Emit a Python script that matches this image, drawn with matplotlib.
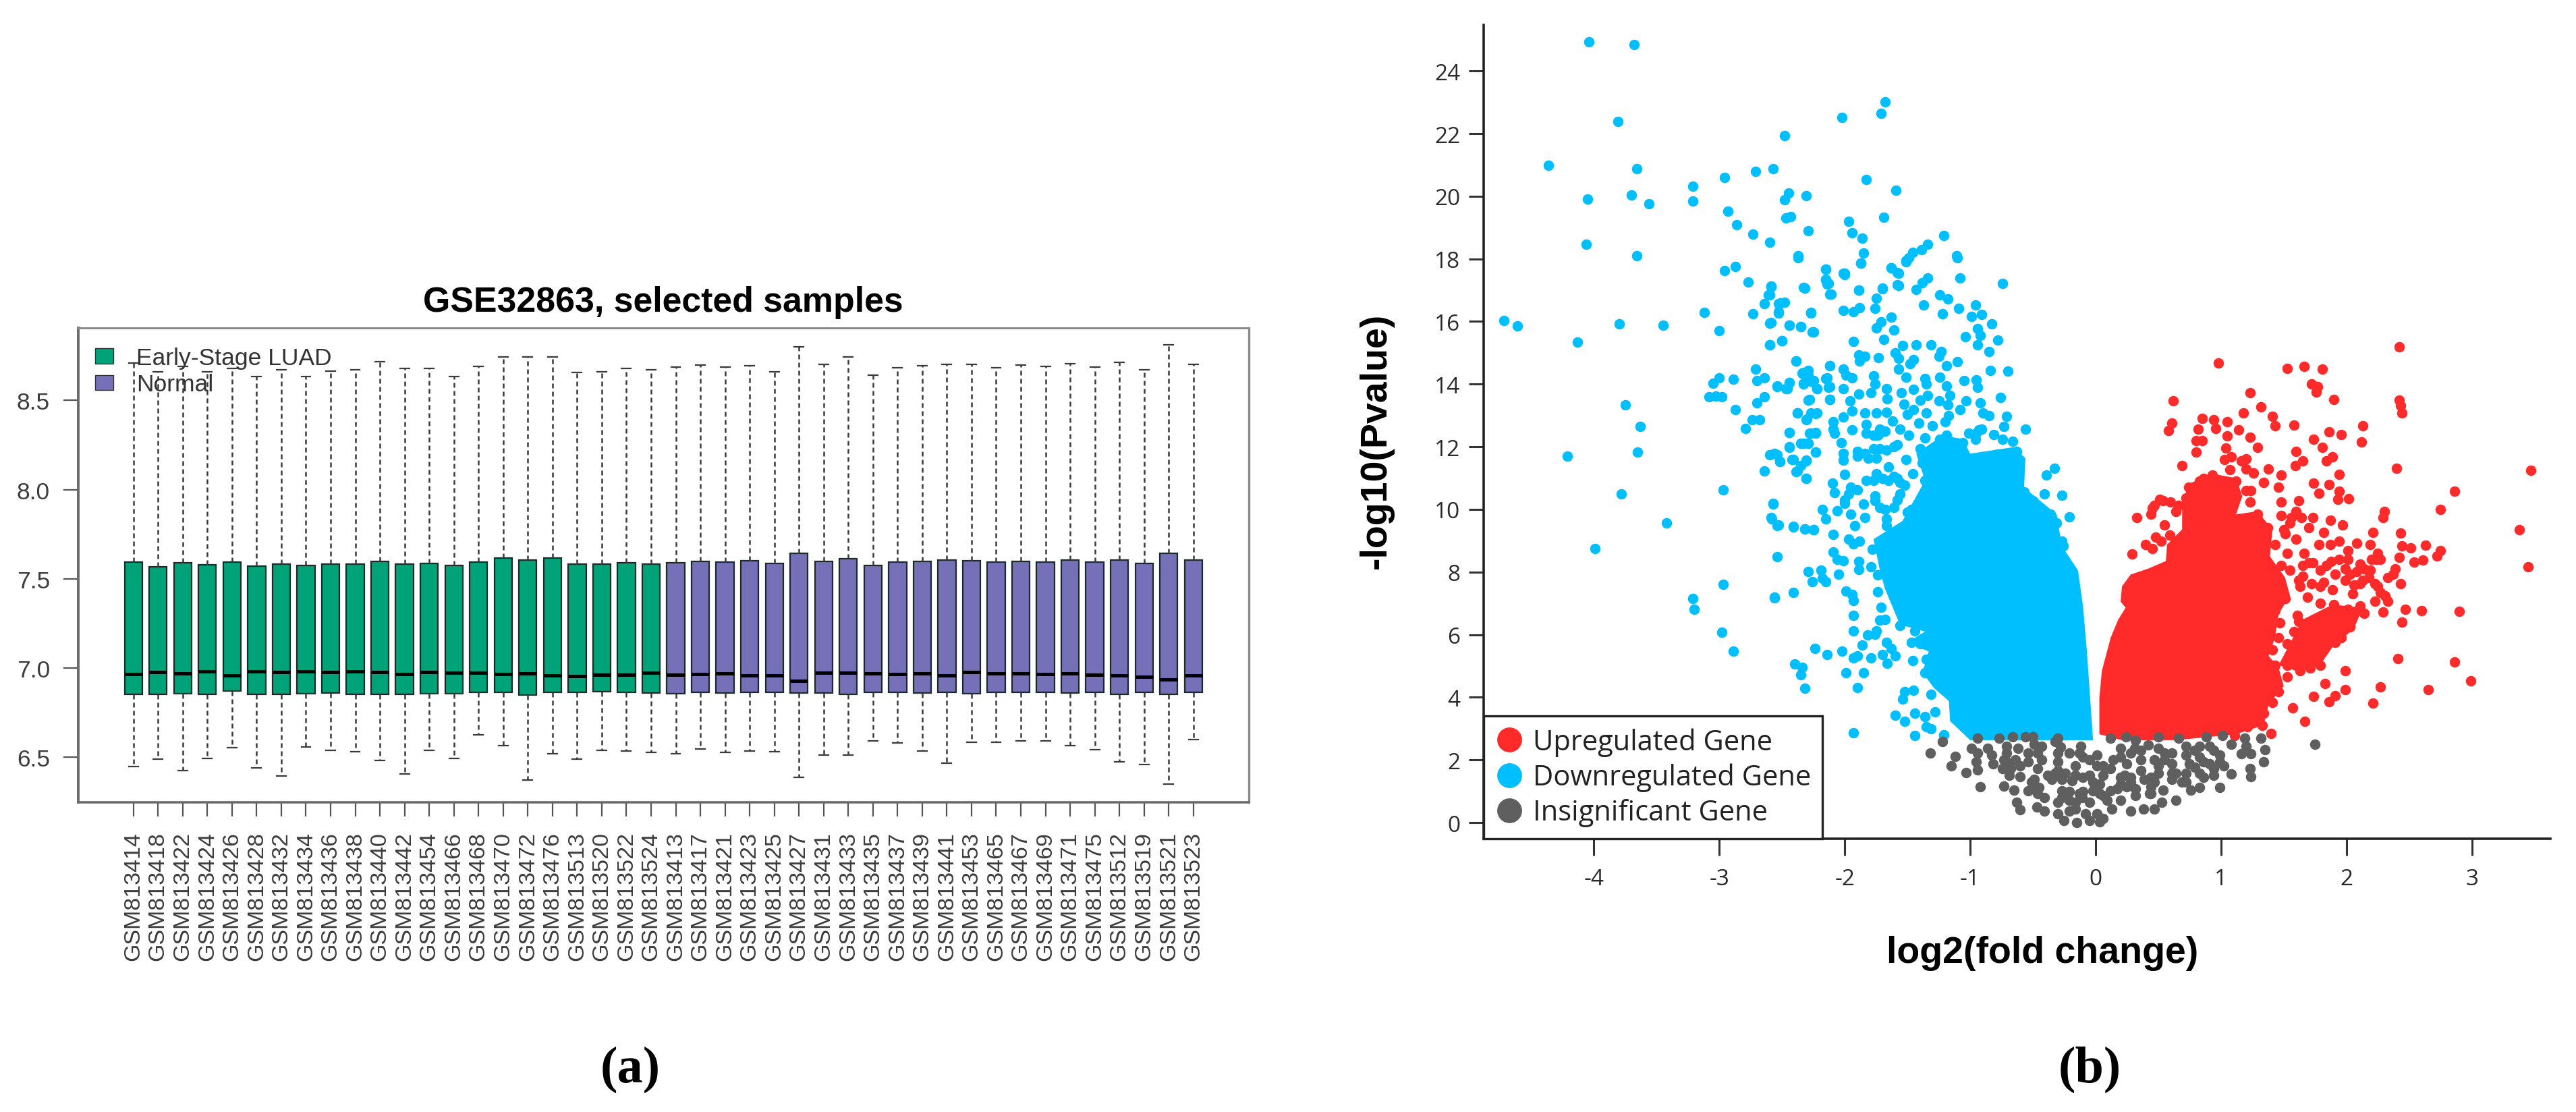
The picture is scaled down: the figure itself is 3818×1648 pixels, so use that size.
import matplotlib
matplotlib.use("Agg")
import matplotlib.pyplot as plt
from matplotlib.lines import Line2D
from matplotlib.patches import Patch

W, H = 3818, 1649
DPI = 100

# ---------- panel (a) data ----------
early_samples = ["GSM813414","GSM813418","GSM813422","GSM813424","GSM813426","GSM813428","GSM813432","GSM813434",
                 "GSM813436","GSM813438","GSM813440","GSM813442","GSM813454","GSM813466","GSM813468","GSM813470",
                 "GSM813472","GSM813476","GSM813513","GSM813520","GSM813522","GSM813524"]
normal_samples = ["GSM813413","GSM813417","GSM813421","GSM813423","GSM813425","GSM813427","GSM813431","GSM813433",
                  "GSM813435","GSM813437","GSM813439","GSM813441","GSM813453","GSM813465","GSM813467","GSM813469",
                  "GSM813471","GSM813475","GSM813512","GSM813519","GSM813521","GSM813523"]
early_q3 = [7.595,7.566,7.589,7.579,7.595,7.569,7.583,7.573,7.583,7.583,7.598,7.583,7.585,7.573,7.595,7.616,7.604,7.616,7.583,7.583,7.589,7.583]
early_q1 = [6.851,6.851,6.855,6.851,6.871,6.853,6.851,6.857,6.859,6.853,6.851,6.851,6.857,6.857,6.865,6.865,6.849,6.865,6.865,6.867,6.865,6.859]
early_med = [6.967,6.977,6.971,6.981,6.958,6.979,6.977,6.981,6.977,6.981,6.977,6.965,6.977,6.975,6.973,6.965,6.969,6.959,6.956,6.961,6.961,6.973]
early_hi = [8.71,8.66,8.69,8.66,8.68,8.635,8.67,8.635,8.664,8.67,8.716,8.68,8.68,8.635,8.69,8.743,8.743,8.743,8.658,8.662,8.68,8.67]
early_lo = [6.448,6.49,6.425,6.492,6.554,6.44,6.396,6.556,6.54,6.531,6.483,6.405,6.537,6.492,6.625,6.564,6.371,6.519,6.488,6.54,6.535,6.527]
normal_q3 = [7.589,7.597,7.594,7.6,7.586,7.641,7.597,7.612,7.574,7.592,7.597,7.603,7.6,7.592,7.597,7.594,7.603,7.594,7.606,7.586,7.641,7.606]
normal_q1 = [6.857,6.863,6.86,6.863,6.865,6.86,6.86,6.854,6.863,6.865,6.86,6.865,6.857,6.863,6.863,6.865,6.86,6.863,6.854,6.863,6.854,6.865]
normal_med = [6.961,6.967,6.97,6.958,6.958,6.929,6.975,6.972,6.97,6.964,6.97,6.958,6.978,6.97,6.97,6.964,6.97,6.961,6.958,6.952,6.935,6.958]
normal_hi = [8.686,8.697,8.686,8.694,8.662,8.801,8.7,8.743,8.642,8.683,8.694,8.703,8.703,8.683,8.697,8.691,8.706,8.686,8.714,8.671,8.813,8.703]
normal_lo = [6.521,6.544,6.527,6.533,6.53,6.388,6.512,6.512,6.591,6.579,6.536,6.466,6.585,6.585,6.591,6.593,6.564,6.541,6.475,6.458,6.348,6.6]

# ---------- panel (b) data : isolated points ----------
down_x = [-4.04,-3.68,-3.81,-4.36,-3.66,-4.05,-3.70,-3.56,-3.21,-3.21,-2.96,-2.71,-2.57,-2.48,-2.02,-1.71,-1.68,-1.83,-1.59,-2.45,-2.48,-2.31,
 -4.06,-3.66,-2.93,-2.86,-2.73,-2.60,-2.47,-2.43,-2.29,-1.97,-1.94,-1.86,-1.69,-1.85,-1.87,-2.37,-2.96,-2.87,-2.77,-2.59,-2.61,-2.64,-2.73,
 -2.53,-2.48,-2.53,-2.60,-2.44,-2.35,-2.25,-2.27,-2.32,-2.15,-2.15,-2.13,-2.12,-2.01,-2.00,-1.89,-1.70,-1.63,-1.57,-1.57,-1.51,-1.49,-1.46,-1.39,-1.34,-1.21,-1.11,
 -4.72,-4.61,-3.80,-3.45,-3.12,-3.00,-4.13,-2.50,-2.60,-2.39,-2.12,-2.71,-2.70,-2.64,-3.00,-3.05,-2.89,-3.08,-3.03,-2.98,-2.54,-2.47,-2.44,-2.64,-2.70,-3.75,-2.87,-2.74,-2.68,-3.63,-2.79,-3.65,-4.21,-2.60,-2.54,-2.52,-2.64,-3.78,-2.97,-3.42,-2.57,-2.58,-2.54,
 -2.41,-2.32,-2.25,-2.44,-2.44,-2.33,-2.29,-2.23,-2.41,-2.31,-2.38,-2.31,-2.38,-2.29,-2.23,-2.31,-2.27,-2.23,-2.34,-2.31,-2.33,-2.22,-2.26,-2.14,-2.12,-2.12,
 -2.37,-1.87,-2.15,-2.00,-2.15,-2.14,-2.33,-2.11,-1.89,-2.59,-2.60,-1.70,-1.58,-1.63,-1.58,-1.51,-1.43,-1.38,-1.34,-1.08,-0.74,-1.10,-1.24,-1.18,-1.37,-1.22,-1.09,-0.96,-0.91,-0.99,-1.75,-1.76,-2.01,-1.93,-1.88,
 -2.51,-2.53,-2.27,-2.59,-2.44,-2.35,-2.26,-1.63,-1.71,-1.75,-1.61,-0.83,-0.94,-0.92,-1.04,-0.78,-0.94,-0.85,-2.50,-2.60,-1.93,-1.69,-1.54,-1.43,-1.31,-1.23,-1.25,-1.10,-1.19,-0.84,-0.70,
 -2.39,-2.12,-1.89,-1.84,-1.88,-1.73,-1.60,-1.57,-1.45,-1.48,-1.57,-1.51,-1.36,-1.24,-1.19,-1.16,-1.05,-0.95,-0.94,-0.76,-2.01,-1.99,-1.94,-2.33,-2.29,-2.33,-2.25,-2.22,-2.15,-2.13,-2.54,-2.46,-2.44,-2.01,
 -1.77,-1.76,-1.79,-1.89,-1.67,-1.66,-1.55,-1.45,-1.35,-1.34,-1.40,-1.53,-2.28,-2.12,-1.96,-1.94,-2.01,-1.84,-1.75,-1.67,-1.62,-1.45,-1.50,-1.35,-1.25,-1.18,-1.08,-1.03,-0.92,-0.90,-0.85,-0.71,-0.73,-0.56,
 -2.38,-2.30,-2.27,-2.22,-2.09,-2.09,-2.08,-1.94,-2.44,-2.28,-2.23,-1.83,-1.83,-1.72,-1.41,-1.30,-1.20,-1.17,-1.56,-1.49,-1.36,-1.24,-1.19,-0.93,-0.96,-0.81,-0.74,-0.66,
 -2.35,-2.29,-2.44,-2.23,-2.03,-2.01,-2.01,-1.90,-1.77,-1.67,-1.58,-2.56,-2.52,-2.42,-2.31,-2.35,-2.39,-2.31,-2.00,-1.51,-1.40,-1.38,-1.26,-1.20,-1.06,-0.63,-0.61,-0.90,-0.87,-0.78,-0.73,-0.33,-0.39,-1.46,-1.65,-1.75,-2.10,-0.41,-0.27,-0.21,
 -2.57,-2.59,-2.53,-2.41,-2.32,-2.25,-2.09,-2.18,-2.15,-2.06,-1.95,-1.84,-1.92,-1.97,-1.93,-1.88,-2.09,-2.06,-2.01,-2.54,-1.78,-1.89,-1.89,-2.29,-2.19,-2.18,-2.26,-2.15,-2.05,-1.79,-1.99,-2.41,-1.74,
 -1.85,-2.08,-2.00,-1.95,-1.83,-1.70,-1.76,-1.58,-1.68,-1.50,-1.45,-1.67,-1.49,-1.52,-1.58,-1.36,-1.36,-1.31,-0.57,-0.50,-0.36,-0.31,-0.26,-0.27,
 -1.74,-1.94,-1.93,-2.56,-1.71,-1.93,-1.72,-1.68,-1.93,-1.82,-1.76,-1.75,-1.56,-1.44,-1.47,-1.40,-1.67,-1.63,-1.60,-1.70,-1.66,-1.86,-1.79,-1.93,-1.90,-2.02,-2.14,-2.24,-2.89,-2.40,-2.34,-2.35,-1.99,-1.85,-2.32,-1.90,-1.46,-1.35,-1.36,-1.52,-1.54,-1.45,-1.31,-1.60,-1.52,-1.44,-1.36,-1.28,-1.35,-1.31,-1.44,-1.93,-1.21,
 -3.21,-3.20,-2.97,-2.98,-3.99,-2.56,
 -2.29,-1.72,-1.74,-1.68,-1.77,-0.95,-0.91,-1.01,-1.84,-1.81,-1.72,-1.75,-1.61,-1.90,-1.65,-1.61,-1.56,-1.77,-1.90,-1.97,-2.00,-1.76,-1.72,-1.61,-1.56,-1.47,-1.67]
down_y = [24.93,24.85,22.38,20.98,20.89,19.92,20.03,19.75,20.32,19.85,20.59,20.79,20.89,21.94,22.52,22.65,23.02,20.53,20.19,20.11,19.88,20.01,
 18.46,18.09,19.52,19.10,18.79,18.53,19.30,19.34,18.89,19.20,18.83,18.67,19.32,18.19,17.87,18.09,17.62,17.75,17.25,17.12,16.86,16.57,16.24,
 16.58,16.61,16.27,15.95,15.89,15.83,15.67,16.27,17.07,17.66,17.33,17.22,16.88,17.55,17.49,17.00,17.04,17.71,17.55,17.16,17.91,18.04,18.21,18.29,18.46,18.75,18.09,
 16.03,15.85,15.92,15.89,16.30,15.71,15.35,15.38,15.26,14.73,14.58,14.47,14.11,14.19,14.19,14.03,14.16,13.59,13.61,13.59,13.93,13.86,14.06,13.59,13.40,13.34,13.19,12.87,12.87,12.65,12.58,11.84,11.70,11.75,11.75,11.53,11.23,10.49,10.63,9.56,10.17,9.69,9.49,
 9.43,9.38,9.36,12.46,12.00,12.10,12.10,11.83,11.59,11.56,11.23,11.00,13.09,13.50,13.06,12.87,12.43,12.46,14.36,14.19,14.03,13.86,14.08,14.19,13.92,13.51,
 18.04,17.87,17.67,17.53,17.35,17.20,17.09,16.88,17.01,17.13,16.84,17.06,17.17,17.71,17.56,17.96,17.02,17.24,17.40,17.40,17.22,18.04,16.86,16.72,16.52,16.25,16.41,16.53,16.23,16.16,16.74,16.43,16.36,16.31,16.45,
 16.59,16.31,16.29,15.96,15.89,15.83,15.67,16.15,15.98,15.79,15.72,15.93,15.77,15.55,15.52,15.41,15.26,15.03,15.39,15.26,15.37,15.43,15.23,15.26,15.25,15.05,14.88,14.71,14.58,14.43,14.42,
 14.74,14.58,14.94,14.90,14.73,14.84,14.99,14.83,14.78,14.65,14.47,14.22,14.17,14.22,13.94,13.65,14.12,14.14,13.90,13.58,14.47,14.29,14.21,14.37,14.29,14.01,14.12,13.86,14.17,13.90,13.95,13.86,14.06,13.86,
 14.26,14.01,13.72,13.68,13.86,13.54,13.72,13.83,14.01,13.65,13.50,13.36,13.52,13.52,13.47,13.15,12.94,13.07,13.07,13.11,12.82,13.18,13.04,13.07,13.47,13.33,13.18,13.47,13.40,13.07,12.99,12.97,12.64,12.57,
 13.07,12.89,13.07,13.07,12.79,12.57,12.43,12.54,12.45,12.44,12.44,12.72,12.43,12.43,12.75,12.66,12.79,13.00,12.57,12.36,12.28,12.25,12.36,12.54,12.25,12.39,12.25,12.18,
 12.10,12.10,11.98,11.83,12.14,11.78,11.57,11.85,11.93,11.89,12.07,11.78,11.53,11.60,11.57,11.39,11.21,10.99,11.12,11.60,11.93,11.49,11.57,11.98,12.14,11.85,11.42,11.67,11.46,11.77,11.28,11.31,11.09,11.14,11.35,11.14,10.83,10.49,10.45,9.77,
 10.19,9.74,9.50,9.45,9.38,9.36,9.21,10.00,9.70,9.95,9.84,9.74,9.48,9.05,8.91,8.98,8.64,8.41,8.37,8.49,8.73,8.34,8.08,8.01,8.05,7.80,7.69,7.69,7.93,8.16,7.40,7.34,7.37,
 10.17,10.53,10.31,10.70,10.92,10.99,10.42,10.31,9.99,9.91,9.77,9.70,9.48,10.78,10.99,10.92,10.42,10.06,10.56,10.27,9.84,9.56,8.84,8.98,
 7.90,7.29,7.08,7.19,6.88,6.61,6.47,6.49,6.11,6.00,6.02,6.11,6.29,6.11,5.75,5.71,5.75,5.57,5.32,5.37,5.09,5.66,5.25,5.25,5.32,5.48,5.37,5.57,5.48,5.07,4.96,4.71,4.78,4.78,4.29,4.30,5.18,5.21,4.78,4.17,3.95,4.22,4.10,3.43,3.24,3.49,3.38,3.54,3.06,2.99,2.79,2.86,2.81,
 7.15,6.81,7.60,6.07,8.75,7.18,
 14.44,12.57,12.36,12.50,12.36,12.43,12.57,12.43,11.78,11.64,11.93,11.64,12.00,11.71,10.92,11.06,10.85,10.92,10.63,10.49,10.20,10.27,10.06,10.06,10.49,9.99,9.48]
up_x = [2.42,0.98,1.53,1.66,1.81,1.72,1.77,1.76,1.23,0.62,1.90,2.42,2.43,2.44,1.32,1.18,1.41,1.43,1.58,2.13,2.12,0.85,0.94,0.96,1.05,0.61,0.58,0.82,0.80,0.85,
 1.05,1.14,1.23,1.29,1.86,1.96,1.74,1.81,0.80,1.04,1.60,1.89,1.84,1.65,1.59,1.03,1.08,1.16,1.20,0.69,1.07,1.20,1.26,1.38,1.48,2.40,3.47,1.94,0.93,0.86,
 1.74,1.86,1.78,1.94,1.93,2.02,2.86,2.75,3.38,3.45,2.30,2.29,1.34,1.46,1.48,1.62,1.60,1.56,1.64,1.48,1.23,1.73,1.70,1.87,1.97,1.82,0.33,0.44,0.29,0.55,0.48,0.40,0.45,
 0.54,0.60,0.47,0.66,0.74,0.72,0.83,1.00,1.12,1.20,1.51,1.60,1.43,1.53,1.55,1.48,1.37,1.29,1.22,
 1.78,1.87,1.94,2.01,2.08,2.19,2.21,2.43,2.44,2.51,2.63,2.75,2.72,2.42,2.54,2.61,2.24,2.19,2.11,2.39,2.33,2.43,2.01,1.99,1.88,1.66,1.73,1.79,1.65,1.72,1.82,1.99,1.89,
 1.63,1.69,2.11,2.23,2.27,2.33,2.23,2.05,2.47,2.60,2.90,2.44,2.29,2.14,2.11,2.01,1.90,1.79,1.96,2.03,1.96,1.91,1.84,1.75,1.61,1.62,1.58,1.70,1.82,1.65,1.82,1.53,1.79,1.71,1.63,1.53,1.43,1.41,
 2.41,2.86,2.99,1.99,1.83,1.99,1.91,1.86,1.74,2.27,2.21,2.65,1.57,1.67,1.40,1.11,
 1.47,1.43,1.51,1.48,1.41,1.46,1.41,1.31,1.27,1.34,1.46,1.41,1.34,1.33,1.21,1.24,1.31,1.37,1.41,1.53,
 0.45,0.51,0.64,0.52,0.59,0.47,0.33,1.94,2.03,2.08,2.14,2.25,2.20,2.27,2.18,2.13,2.06,2.25,2.31,2.37,1.91,1.84,1.70,1.65,1.79,1.62,1.55,1.50,1.24]
up_y = [15.20,14.67,14.51,14.56,14.49,14.00,13.93,13.74,13.72,13.47,13.52,13.50,13.31,13.09,13.28,13.07,12.97,12.68,12.70,12.68,12.15,12.90,12.87,12.59,12.81,12.76,12.51,12.56,12.20,12.20,
 12.34,12.54,12.30,11.99,12.47,12.39,12.25,11.99,11.82,11.96,11.86,11.67,11.56,11.56,11.40,11.60,11.67,11.56,11.62,11.40,11.27,11.29,11.17,11.29,11.10,11.32,11.24,11.12,11.10,11.00,
 10.83,10.79,10.52,10.57,10.33,10.35,10.57,9.99,9.36,8.16,9.94,9.75,10.85,10.71,10.23,10.28,9.94,9.75,9.75,9.80,10.23,9.75,9.41,9.65,9.51,9.27,9.75,9.84,8.57,9.51,9.12,8.88,8.74,
 10.28,10.23,10.13,10.13,10.71,10.37,10.90,10.90,10.90,10.61,9.22,9.05,8.88,8.59,8.06,8.21,9.41,9.84,9.65,
 8.88,8.88,8.98,8.69,8.93,8.88,9.27,9.25,8.83,8.77,8.85,8.69,8.52,8.47,8.32,8.38,8.40,8.06,8.26,8.11,7.82,7.63,8.40,8.11,8.35,8.59,8.30,8.06,7.87,7.63,7.68,7.73,7.44,
 7.54,7.20,7.63,7.63,7.34,7.07,7.07,7.30,6.81,6.77,6.74,6.40,6.72,6.67,6.91,6.81,6.96,7.01,6.57,6.24,5.90,5.76,6.43,6.48,6.62,6.43,6.09,6.09,6.00,5.61,5.52,5.71,5.03,4.94,4.84,5.03,5.03,4.84,
 5.23,5.13,4.52,4.84,4.43,4.25,4.05,3.85,4.04,4.34,3.81,4.25,3.67,3.24,2.84,2.77,
 6.38,6.77,7.15,7.54,7.15,5.90,5.52,5.32,4.74,4.46,4.17,3.83,3.49,3.11,3.06,3.98,5.90,6.28,5.03,4.65,
 10.04,10.33,9.94,8.98,9.17,8.02,7.82,8.40,7.92,8.02,8.11,8.59,8.40,8.40,7.82,7.73,7.58,7.54,7.25,7.92,7.92,8.21,8.30,8.21,7.54,7.73,9.56,9.36,10.61]
insig_x = [-1.22,-1.32,-1.12,-1.15,-1.03,-0.92,-0.99,-0.94,-0.95,-0.94,-0.82,-0.86,-0.77,-0.66,-0.56,-0.50,-0.30,-0.28,-0.12,-0.71,-0.64,-0.54,-0.43,-0.43,-0.46,-0.74,-0.69,-0.60,-0.73,-0.65,-0.49,-0.54,-0.45,-0.41,-0.63,-0.60,-0.47,-0.41,
 -0.32,-0.30,-0.21,-0.10,-0.16,-0.24,-0.19,-0.05,0.01,0.06,0.14,0.06,0.12,0.24,0.32,0.20,0.28,0.42,0.50,0.61,0.66,0.36,0.47,0.36,0.23,0.20,0.28,0.39,0.50,0.44,0.43,0.54,0.64,0.53,0.32,0.47,0.38,0.28,0.13,0.20,0.12,0.03,0.06,-0.02,-0.13,-0.27,-0.30,-0.30,-0.25,-0.15,-0.16,-0.05,0.01,-0.05,0.03,0.06,-0.21,
 0.72,0.79,0.88,1.01,0.94,1.08,1.19,1.32,1.20,1.16,1.24,1.35,1.34,1.23,1.24,1.08,0.99,1.02,0.94,0.94,0.86,0.75,0.61,0.64,0.61,0.72,0.76,0.83,0.99,1.75,0.83,0.72,0.50,
 -0.71,-0.62,-0.49,-0.60,-0.54,-0.68,-0.35,-0.27,-0.10,-0.02,-0.49,-0.46,-0.51,-0.21,-0.27,-0.21,-0.08,-0.10,0.03,0.09,-0.11,-0.16,
 0.12,0.20,0.25,0.31,0.36,0.55,0.55,0.50,0.61,0.44,0.28,0.20,0.44,0.47,0.32,0.25,0.17,0.69,0.83,0.91,0.99,0.91,0.83,0.86,0.79,0.72,
 -0.94,-0.83,-0.73,-0.71,-0.30,-0.46,-0.32,-0.13,-0.05,0.01,-0.16,-0.30,-0.38]
insig_y = [2.59,2.21,2.12,1.80,1.60,1.14,2.37,2.69,1.94,1.69,1.87,2.37,2.69,2.73,2.73,2.73,2.69,2.41,2.44,2.23,2.01,2.23,2.44,2.01,1.72,1.72,1.51,1.47,1.17,1.04,1.37,1.01,1.11,0.79,0.65,0.40,0.50,0.36,
 1.58,1.94,2.23,2.08,1.80,1.58,1.33,1.51,2.16,1.80,2.01,1.51,2.69,2.73,2.62,2.37,2.23,2.48,2.37,2.23,2.69,2.01,2.01,1.65,1.51,1.22,1.29,1.37,1.58,1.15,0.93,1.04,0.72,0.65,0.86,0.43,0.43,0.36,0.43,0.72,1.01,1.22,0.86,1.01,0.93,1.01,0.65,0.29,0.07,0.00,0.43,0.65,0.29,0.07,0.03,0.14,0.72,
 2.44,2.30,2.73,2.77,2.30,2.51,2.69,2.69,2.44,2.19,2.19,2.33,1.94,1.72,1.47,1.55,1.94,1.80,1.72,1.51,1.44,1.87,1.87,1.58,1.37,1.29,1.04,1.11,1.11,2.50,2.08,2.16,2.73,
 1.94,2.37,2.51,1.80,1.94,1.72,1.37,1.37,1.44,1.29,1.15,0.93,1.29,1.00,0.79,0.36,0.29,1.00,0.93,0.72,0.79,0.65,
 1.72,2.08,1.87,2.37,2.30,2.01,2.23,1.80,1.58,1.44,1.44,1.44,0.93,1.29,1.08,1.15,1.08,1.29,1.58,1.87,2.16,2.44,2.44,1.94,1.76,1.58,
 2.23,2.16,2.01,2.44,2.23,2.23,2.59,2.23,2.01,1.80,1.51,1.65,1.51]

# outlines of the areas where the points merge into solid colour
down_core_x = [-1.00,-0.02,-0.07,-0.10,-0.14,-0.27,-0.31,-0.57,-0.56,-0.65,-1.00,-1.06,-1.22,-1.43,-1.36,-1.54,-1.77,-1.72,-1.68,-1.56,-1.36,-1.50,-1.33,-1.38,-1.29,-1.17,-1.16]
down_core_y = [2.63,2.63,5.50,6.90,8.05,8.84,9.84,10.70,11.64,11.99,11.78,12.25,12.36,11.78,10.92,9.63,9.05,8.05,7.47,6.32,6.10,5.75,5.46,4.80,4.30,3.88,3.24]
up_core_x = [0.21,0.64,1.12,1.34,1.38,1.50,1.46,1.38,1.43,1.46,1.55,1.51,1.39,1.41,1.29,1.12,1.17,1.12,0.93,0.74,0.69,0.69,0.57,0.56,0.42,0.28,0.21,0.20,0.24,0.18,0.12,0.05,0.03,0.03]
up_core_y = [2.63,2.63,2.82,3.11,3.78,4.36,4.94,5.32,5.90,6.67,7.25,7.83,8.50,9.36,9.94,9.84,10.42,11.00,11.14,10.81,10.13,9.36,8.88,8.35,8.11,7.92,7.54,7.05,6.86,6.48,5.90,4.84,3.98,2.82]
up_arm_x = [1.46,1.65,1.89,2.13,2.06,1.89,1.79,1.60]
up_arm_y = [5.03,6.48,6.96,6.86,6.19,5.61,5.03,4.84]

y_ticks_a = [6.5, 7.0, 7.5, 8.0, 8.5]
x_ticks_b = [-4, -3, -2, -1, 0, 1, 2, 3]
y_ticks_b = [0, 2, 4, 6, 8, 10, 12, 14, 16, 18, 20, 22, 24]
legend_a = ["Early-Stage LUAD", "Normal"]
legend_b = ["Upregulated Gene", "Downregulated Gene", "Insignificant Gene"]

GREEN, PURPLE = "#00A378", "#7570B8"
RED, BLUE, GREY = "#FF2B2B", "#00BFFF", "#5F5F5F"

plt.rcParams["font.family"] = ["Liberation Sans", "DejaVu Sans"]
plt.rcParams["axes.unicode_minus"] = False
fig = plt.figure(figsize=(W / DPI, H / DPI), dpi=DPI, facecolor="white")

def axes_px(l, t, r, b):
    return fig.add_axes([l / W, 1 - b / H, (r - l) / W, (b - t) / H])

# ---------- panel (a) ----------
ax = axes_px(115.6, 487, 1851, 1190)
samples = early_samples + normal_samples
stats = []
for lab, hi, q3, med, q1, lo in zip(samples, early_hi + normal_hi, early_q3 + normal_q3,
                                    early_med + normal_med, early_q1 + normal_q1, early_lo + normal_lo):
    stats.append(dict(label=lab, whishi=hi, q3=q3, med=med, q1=q1, whislo=lo, fliers=[]))
positions = list(range(1, len(samples) + 1))
art = ax.bxp(stats, positions=positions, widths=0.72, capwidths=0.38, patch_artist=True, showfliers=False,
             boxprops=dict(edgecolor="#1c2a2a", linewidth=1.6),
             medianprops=dict(color="black", linewidth=3.6, solid_capstyle="butt"),
             whiskerprops=dict(color="#3a3a3a", linewidth=1.8, linestyle=(0, (2.8, 2.0))),
             capprops=dict(color="#3a3a3a", linewidth=1.6))
for i, b in enumerate(art["boxes"]):
    b.set_facecolor(GREEN if i < len(early_samples) else PURPLE)
ax.set_xlim(-1.247, 46.25)
ax.set_ylim(6.247, 8.906)
ax.set_yticks(y_ticks_a)
ax.set_yticklabels([f"{v:.1f}" for v in y_ticks_a])
ax.set_xticks(positions)
ax.set_xticklabels(samples, rotation=90)
ax.tick_params(axis="y", length=16, width=1.6, color="#555555", labelcolor="#3c3c3c", labelsize=25.5, pad=14)
ax.tick_params(axis="x", length=15, width=1.6, color="#555555", labelcolor="#3c3c3c", labelsize=24.5, pad=16)
for side, lw, c in (("left", 2.8, "#6a6a6a"), ("bottom", 2.6, "#6a6a6a"), ("top", 2.2, "#8a8a8a"), ("right", 2.4, "#8a8a8a")):
    ax.spines[side].set_linewidth(lw)
    ax.spines[side].set_color(c)
ax.set_title("GSE32863, selected samples", fontsize=37.4, fontweight="bold", pad=18, color="black")
handles = [Patch(facecolor=GREEN, edgecolor="#333333"), Patch(facecolor=PURPLE, edgecolor="#333333")]
leg = ax.legend(handles, legend_a, loc="upper left", bbox_to_anchor=(0.0145, 0.96), borderaxespad=0, borderpad=0,
                frameon=False, fontsize=25.5, handlelength=0.76, handleheight=0.6, handletextpad=0.98, labelspacing=0.18)
for t in leg.get_texts():
    t.set_color("#333333")

# ---------- panel (b) ----------
bx = axes_px(2199, 38, 3780, 1244)
bx.fill(up_core_x, up_core_y, color=RED, lw=0, zorder=2)
bx.fill(up_arm_x, up_arm_y, color=RED, lw=0, zorder=2)
bx.scatter(up_x, up_y, s=125, color=RED, linewidths=0, zorder=2)
bx.fill(down_core_x, down_core_y, color=BLUE, lw=0, zorder=3)
bx.scatter(down_x, down_y, s=125, color=BLUE, linewidths=0, zorder=3)
bx.scatter(insig_x, insig_y, s=125, color=GREY, linewidths=0, zorder=4)
bx.set_xlim(-4.879, 3.626)
bx.set_ylim(-0.517, 25.47)
bx.set_xticks(x_ticks_b)
bx.set_yticks(y_ticks_b)
bx.spines["top"].set_visible(False)
bx.spines["right"].set_visible(False)
for s in ("left", "bottom"):
    bx.spines[s].set_linewidth(2.6)
    bx.spines[s].set_color("#222222")
bx.tick_params(axis="y", length=16, width=2.2, color="#333333", labelcolor="#2a2a2a", pad=9)
bx.tick_params(axis="x", length=18, width=2.2, color="#333333", labelcolor="#2a2a2a", pad=13)
for lab in bx.get_xticklabels() + bx.get_yticklabels():
    lab.set_fontfamily(["Open Sans", "DejaVu Sans"])
    lab.set_fontsize(24)
bx.set_xlabel("log2(fold change)", fontsize=40, fontweight="bold", va="baseline")
bx.xaxis.set_label_coords(0.524, -0.152)
bx.set_ylabel("-log10(Pvalue)", fontsize=40, fontweight="bold", va="center")
bx.yaxis.set_label_coords(-0.1006, 0.49)
hb = [Line2D([], [], ls="", marker="o", ms=26.5, color=c, mew=0) for c in (RED, BLUE, GREY)]
lb = bx.legend(hb, legend_b, loc="lower left", bbox_to_anchor=(0, 0), borderaxespad=0, fancybox=False,
               framealpha=1, edgecolor="#222222", handlelength=1.0, handletextpad=0.32, labelspacing=0.24, borderpad=0.42,
               prop=dict(family=["Open Sans", "DejaVu Sans"], size=30))
lb.get_frame().set_linewidth(2.4)
lb.set_zorder(5)
for t in lb.get_texts():
    t.set_color("#222222")

fig.text(934 / W, 1 - 1585 / H, "(a)", family="Liberation Serif", fontweight="bold", fontsize=55, ha="center", va="center")
fig.text(3097 / W, 1 - 1585 / H, "(b)", family="Liberation Serif", fontweight="bold", fontsize=55, ha="center", va="center")

fig.savefig("out.png", dpi=DPI, facecolor="white")
